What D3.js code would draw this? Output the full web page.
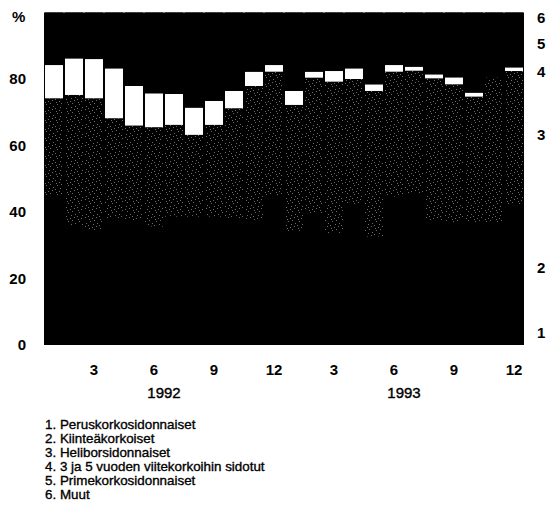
<!DOCTYPE html>
<html><head><meta charset="utf-8">
<script src="https://cdn.jsdelivr.net/npm/d3@7"></script>
<style>body{margin:0;background:#fff}svg{display:block}text{font-family:"Liberation Sans",Arial,sans-serif;fill:#000}</style>
</head><body>
<svg id="c" width="550" height="516"></svg>
<script>
const months = ["1","2","3","4","5","6","7","8","9","10","11","12","1","2","3","4","5","6","7","8","9","10","11","12"];
const xTickLabels = ["3","6","9","12","3","6","9","12"];
const xTickIndex = [2,5,8,11,14,17,20,23];
const years = ["1992","1993"];
const yTicks = [0,20,40,60,80];
const seriesNames = ["1. Peruskorkosidonnaiset","2. Kiinteäkorkoiset","3. Heliborsidonnaiset","4. 3 ja 5 vuoden viitekorkoihin sidotut","5. Primekorkosidonnaiset","6. Muut"];
const s1 = [10,9,9,9,8,8,8,8,7,7,7,7,7,6,6,6,6,6,5,5,5,5,5,5];
const s2 = [35.1,27.1,25.6,29.2,29.6,27.6,30.6,30.6,31.6,31.2,30.6,38.1,27.1,33.7,27.7,36.1,26.6,38.6,40.7,32.6,31.7,31.7,31.7,37.1];
const s3 = [29.1,39.1,39.6,30.0,28.4,29.9,27.6,24.6,27.6,33.0,40.3,37.1,38.1,40.7,45.5,37.9,43.8,37.6,36.8,42.6,41.7,38.0,43.8,40.3];
const s4 = [10.0,11.0,11.8,15.0,11.9,10.2,9.3,8.2,7.2,5.2,4.3,2.0,4.2,1.8,3.2,3.2,2.0,2.0,1.2,1.2,2.1,1.2,0,1.1];
const s5 = [12.8,10.8,11.0,13.8,19.1,21.3,21.5,25.6,23.6,20.6,14.8,12.8,20.6,14.8,14.6,13.8,18.6,12.8,13.3,15.6,16.5,21.1,16.5,13.5];
const s6 = [3,3,3,3,3,3,3,3,3,3,3,3,3,3,3,3,3,3,3,3,3,3,3,3];

const svg = d3.select("#c");
const L = 44, R = 524, T = 12.5, B = 345;
const x = d3.scaleBand().domain(d3.range(months.length)).range([L, R]).paddingInner(0.1).paddingOuter(0.05);
const y = d3.scaleLinear().domain([0,100]).range([B, T]);

const defs = svg.append("defs");
const pat = defs.append("pattern").attr("id","stip").attr("patternUnits","userSpaceOnUse").attr("width",11).attr("height",9);
pat.append("rect").attr("width",11).attr("height",9).attr("fill","#000");
[[0,0],[4,2],[8,1],[2,5],[6,4],[9,7],[5,8],[1,3]].forEach(p=>pat.append("rect").attr("x",p[0]).attr("y",p[1]).attr("width",1).attr("height",1).attr("fill","#6a6a6a"));

const colors = ["#000","#000","url(#stip)","#fff","#000","#000"];
const rows = months.map((m,i)=>({i, a:s1[i], b:s2[i], c:s3[i], d:s4[i], e:s5[i], f:s6[i]}));
const stack = d3.stack().keys(["a","b","c","d","e","f"])(rows);

svg.append("rect").attr("x",L).attr("y",y(100)).attr("width",R-L).attr("height",y(0)-y(100)).attr("fill","#000");

stack.forEach((layer,k)=>{
  svg.append("g").selectAll("rect").data(layer).join("rect")
    .attr("x",d=>x(d.data.i)).attr("width",x.bandwidth())
    .attr("y",d=>y(d[1])).attr("height",d=>Math.max(0,y(d[0])-y(d[1])))
    .attr("fill",colors[k]);
});

// y axis labels
const ya = svg.append("g").attr("transform",`translate(${L},0)`).call(d3.axisLeft(y).tickValues(yTicks).tickSize(0).tickPadding(18));
ya.select(".domain").remove();
ya.selectAll("text").attr("font-size",15).attr("font-weight","bold").attr("font-family","Liberation Sans, Arial, sans-serif");
svg.append("text").attr("x",12).attr("y",22).attr("font-size",15).attr("font-weight","bold").text("%");

// x axis labels
const xa = svg.append("g").attr("transform",`translate(0,${B})`).call(d3.axisBottom(x).tickValues(xTickIndex).tickSize(0).tickPadding(19).tickFormat((d,j)=>xTickLabels[j]));
xa.select(".domain").remove();
xa.selectAll("text").attr("font-size",15).attr("font-weight","bold").attr("font-family","Liberation Sans, Arial, sans-serif");
years.forEach((yr,j)=>{
  const cx = (x(j*12+5)+x(j*12+6)+x.bandwidth())/2;
  svg.append("text").attr("x",cx).attr("y",398).attr("text-anchor","middle").attr("font-size",15)
    .attr("stroke","#000").attr("stroke-width",0.4).text(yr);
});

// right series labels at last bar
const labelY = [333,268,135,72,44,18];
labelY.forEach((ly,k)=>{
  svg.append("text").attr("x",537).attr("y",ly+5).attr("font-size",15).attr("font-weight","bold").text(String(k+1));
});

// legend
svg.append("g").selectAll("text").data(seriesNames).join("text")
  .attr("x",45).attr("y",(d,i)=>429+i*14).attr("font-size",13.4)
  .attr("stroke","#000").attr("stroke-width",0.35).text(d=>d);
</script>
</body></html>
